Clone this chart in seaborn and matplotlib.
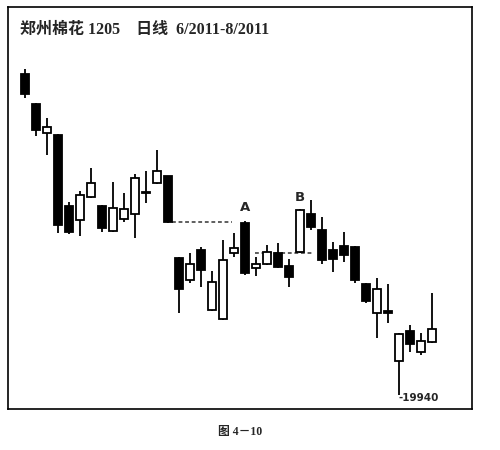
import numpy as np
import pandas as pd
import matplotlib
matplotlib.use('Agg')
import matplotlib.pyplot as plt
import seaborn as sns

# daily OHLC, Zhengzhou cotton 1205
opens = [24755, 24305, 23870, 23840, 22775, 22565, 22910, 22775, 22400, 22580,
         22655, 22970, 23120, 23225, 21995, 21665, 22115, 21215, 21080, 22070,
         22520, 21845, 21905, 22070, 21875, 22090, 22655, 22415, 22115, 22175,
         22160, 21605, 21170, 21200, 20450, 20900, 20585, 20735]
highs = [24830, 24320, 24095, 23855, 22835, 23000, 23345, 22790, 23135, 22970,
         23255, 23300, 23615, 23225, 22010, 22070, 22160, 21800, 22265, 22370,
         22550, 22010, 22190, 22220, 21980, 22730, 22865, 22610, 22235, 22385,
         22175, 21620, 21695, 21605, 20870, 20990, 20870, 21470]
lows = [24395, 23825, 23540, 22370, 22355, 22325, 22895, 22385, 22385, 22535,
        22295, 22820, 23105, 22520, 21170, 21620, 21560, 21200, 21065, 22010,
        21740, 21725, 21890, 21845, 21560, 22070, 22415, 21905, 21785, 21935,
        21620, 21320, 20795, 21020, 19940, 20585, 20540, 20720]
closes = [24455, 23915, 23960, 22490, 22385, 22940, 23120, 22445, 22745, 22730,
          23195, 22985, 23300, 22535, 21530, 21905, 21815, 21635, 21965, 22145,
          21770, 21905, 22085, 21860, 21710, 22715, 22460, 21965, 21980, 22040,
          21665, 21350, 21530, 21170, 20855, 20705, 20750, 20930]

level_a = 22535
level_b = 22070
low_label = '19940'
title = '郑州棉花 1205    日线  6/2011-8/2011'
caption = '图 4－10'

df = pd.DataFrame({'open': opens, 'high': highs, 'low': lows, 'close': closes})
df['day'] = np.arange(len(df))
df['up'] = df['close'] >= df['open']
df['bottom'] = df[['open', 'close']].min(axis=1)
df['body'] = (df['close'] - df['open']).abs().clip(lower=8)

sns.set_theme(style='white')
plt.rcParams['font.family'] = ['Liberation Serif', 'Noto Sans CJK SC', 'DejaVu Sans']

fig = plt.figure(figsize=(5, 4.5), dpi=100)
ax = fig.add_axes([0.016, 0.091, 0.928, 0.893])

ax.vlines(df['day'], df['low'], df['high'], color='black', lw=1.3, zorder=2)
ax.bar(df['day'], df['body'], bottom=df['bottom'], width=0.68,
       color=np.where(df['up'], 'white', 'black'), edgecolor='black',
       linewidth=1.3, zorder=3)

ax.hlines(level_a, 13.4, 18.8, color='#333333', lw=1.1, linestyles=(0, (2.5, 1.8)), zorder=1)
ax.hlines(level_b, 20.9, 26.1, color='#333333', lw=1.1, linestyles=(0, (2.5, 1.8)), zorder=1)

ax.text(20, 22760, 'A', ha='center', va='center', fontsize=9.5, fontweight='bold',
        family='DejaVu Sans')
ax.text(25, 22910, 'B', ha='center', va='center', fontsize=9.5, fontweight='bold',
        family='DejaVu Sans')
ax.text(34, 19895, '-' + low_label, ha='left', va='center', fontsize=7.5,
        fontweight='bold', family='DejaVu Sans')

ax.set_xlim(-1.545, 40.64)
ax.set_ylim(19730, 25760)
ax.set_xticks([])
ax.set_yticks([])
for s in ax.spines.values():
    s.set_color('black')
    s.set_linewidth(1.2)
    s.set_visible(True)

fig.text(0.04, 0.933, title, ha='left', va='center', fontsize=11.5, fontweight='bold')
fig.text(0.48, 0.04, caption, ha='center', va='center', fontsize=8.5, fontweight='bold')

fig.savefig('out.png', dpi=100)
